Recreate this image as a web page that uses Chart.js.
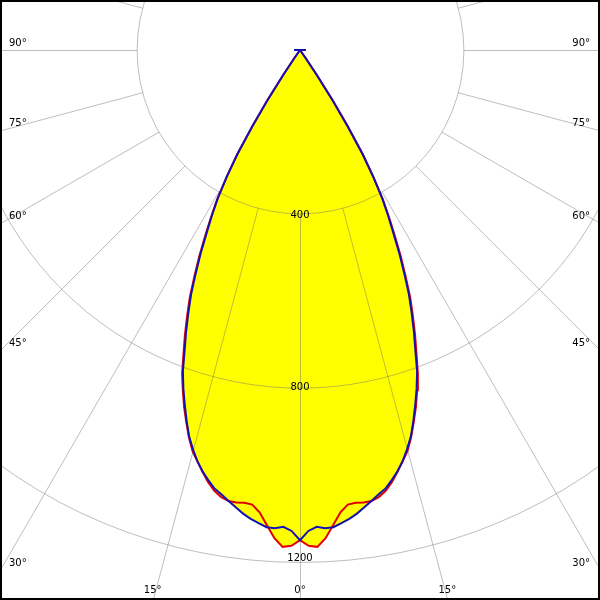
<!DOCTYPE html>
<html lang="de">
<head>
<meta charset="UTF-8">
<title>Lichtstärkeverteilung</title>
<script src="https://cdn.jsdelivr.net/npm/chart.js"></script>
<style>
  html, body { margin: 0; padding: 0; background: #fff; }
  #wrap { width: 600px; height: 600px; }
</style>
</head>
<body>
<div id="wrap"><canvas id="ldc" width="600" height="600"></canvas></div>
<script>
// Ausstrahlungswinkel ab Nadir (Grad); beide Ebenen sind symmetrisch
const angles = [0, 1, 2, 3, 4, 5, 6, 7, 8, 9, 10, 11, 12, 13, 14, 15, 16, 17, 18,
                19, 20, 21, 22, 23, 24, 25, 26, 27, 28, 29, 30, 31, 32, 33, 34, 35, 36];

// Lichtstärke in cd, C0-C180 (rot)
const planeC0 = [1150, 1163, 1166, 1147, 1118, 1090, 1074, 1072, 1074, 1073, 1067, 1056, 1039,
                 1019, 998, 978, 950, 918, 886, 851, 816, 771, 730, 688, 647, 599, 553,
                 505, 461, 417, 362, 305, 232, 163, 94, 48, 0];

// Lichtstärke in cd, C90-C270 (blau)
const planeC90 = [1150, 1129, 1120, 1124, 1123, 1115, 1107, 1097, 1085, 1073, 1061, 1051, 1035,
                  1018, 998, 974, 948, 915, 881, 847, 811, 764, 723, 681, 640, 592, 546,
                  498, 456, 415, 362, 305, 232, 163, 94, 48, 0];

const ringValues = [400, 800, 1200];
const angleTicks = [0, 15, 30, 45, 60, 75, 90];

// Skala: Radius beginnt bei R_MIN cd
const R_MIN = 25;
const PX_PER_CD = 0.4357;
const LABEL_PX_PER_CD = 0.4288;   // Beschriftung der Kreise sitzt etwas anders als die Kreise
const CENTER_Y = 50;   // Lage des Mittelpunkts im Bild (px von oben)

function polar(deg, v) {
    const r = Math.max(0, v - R_MIN);
    const a = deg * Math.PI / 180;
    return { x: r * Math.sin(a), y: -r * Math.cos(a) };
}

// von links (-max) über Nadir nach rechts (+max)
function toPoints(values) {
    const pts = [];
    for (let i = angles.length - 1; i >= 0; i--) pts.push(polar(-angles[i], values[i]));
    for (let i = 1; i < angles.length; i++) pts.push(polar(angles[i], values[i]));
    return pts;
}

const polarGrid = {
    id: 'polarGrid',
    beforeDatasetsDraw(chart) {
        const { ctx, scales: { x, y } } = chart;
        const cx = x.getPixelForValue(0), cy = y.getPixelForValue(0);
        const rad = v => x.getPixelForValue(v - R_MIN) - cx;
        ctx.save();
        ctx.translate(0.5, 0.5);
        ctx.strokeStyle = 'rgba(110,110,110,0.45)';
        ctx.lineWidth = 1;
        ringValues.forEach(v => {
            ctx.beginPath();
            ctx.arc(cx, cy, rad(v), 0, 2 * Math.PI);
            ctx.stroke();
        });
        const r0 = rad(ringValues[0]);
        for (let d = 0; d < 360; d += 15) {
            const t = d * Math.PI / 180;
            ctx.beginPath();
            ctx.moveTo(cx + r0 * Math.sin(t), cy + r0 * Math.cos(t));
            ctx.lineTo(cx + 2000 * Math.sin(t), cy + 2000 * Math.cos(t));
            ctx.stroke();
        }
        ctx.restore();
    },
    afterDatasetsDraw(chart) {
        const { ctx, chartArea: a, scales: { x, y } } = chart;
        const cx = x.getPixelForValue(0), cy = y.getPixelForValue(0);
        ctx.save();
        ctx.fillStyle = '#000';
        ctx.font = '10px "DejaVu Sans", sans-serif';
        ctx.textBaseline = 'alphabetic';

        // Werte an den Kreisen
        ctx.textAlign = 'center';
        ringValues.forEach(v => ctx.fillText(String(v), cx, cy + v * LABEL_PX_PER_CD - 3.5));

        // Winkel am Rand
        angleTicks.forEach(d => {
            [-1, 1].forEach(side => {
                if (d === 0 && side === 1) return;
                const t = d * Math.PI / 180;
                const dx = side * Math.sin(t), dy = Math.cos(t);
                const tSide = dx === 0 ? Infinity : (side < 0 ? cx - a.left : a.right - cx) / Math.abs(dx);
                const tBottom = dy <= 1e-9 ? Infinity : (a.bottom - cy) / dy;
                const text = d + '°';
                if (tBottom < tSide) {
                    ctx.textAlign = 'center';
                    ctx.fillText(text, cx + dx * tBottom, a.bottom - 7);
                } else {
                    const yEdge = cy + dy * tSide;
                    ctx.textAlign = side < 0 ? 'left' : 'right';
                    ctx.fillText(text, side < 0 ? a.left + 9 : a.right - 10, yEdge - 4);
                }
            });
        });

        // Rahmen
        ctx.strokeStyle = '#000';
        ctx.lineWidth = 2;
        ctx.strokeRect(a.left + 1, a.top + 1, a.width - 2, a.height - 2);
        ctx.restore();
    }
};

const halfW = 300 / PX_PER_CD;

new Chart(document.getElementById('ldc'), {
    type: 'scatter',
    data: {
        datasets: [
            {
                label: 'C90-C270',
                data: toPoints(planeC90),
                showLine: true,
                borderColor: '#1212b4',
                borderWidth: 2,
                backgroundColor: '#ffff00',
                fill: 'shape',
                tension: 0,
                pointStyle: 'line',
                pointRadius: c => c.dataIndex === 0 ? 6 : 0,
                pointBorderColor: '#1212b4',
                pointBorderWidth: 2
            },
            {
                label: 'C0-C180',
                data: toPoints(planeC0),
                showLine: true,
                borderColor: '#e00000',
                borderWidth: 2,
                backgroundColor: '#ffff00',
                fill: 'shape',
                tension: 0,
                pointRadius: 0
            }
        ]
    },
    options: {
        responsive: false,
        animation: false,
        events: [],
        layout: { padding: 0, autoPadding: false },
        scales: {
            x: { type: 'linear', display: false, min: -halfW, max: halfW },
            y: { type: 'linear', display: false, min: -(600 - CENTER_Y) / PX_PER_CD, max: CENTER_Y / PX_PER_CD }
        },
        plugins: {
            legend: { display: false },
            tooltip: { enabled: false },
            filler: { drawTime: 'beforeDatasetsDraw' }
        }
    },
    plugins: [polarGrid]
});
</script>
</body>
</html>
